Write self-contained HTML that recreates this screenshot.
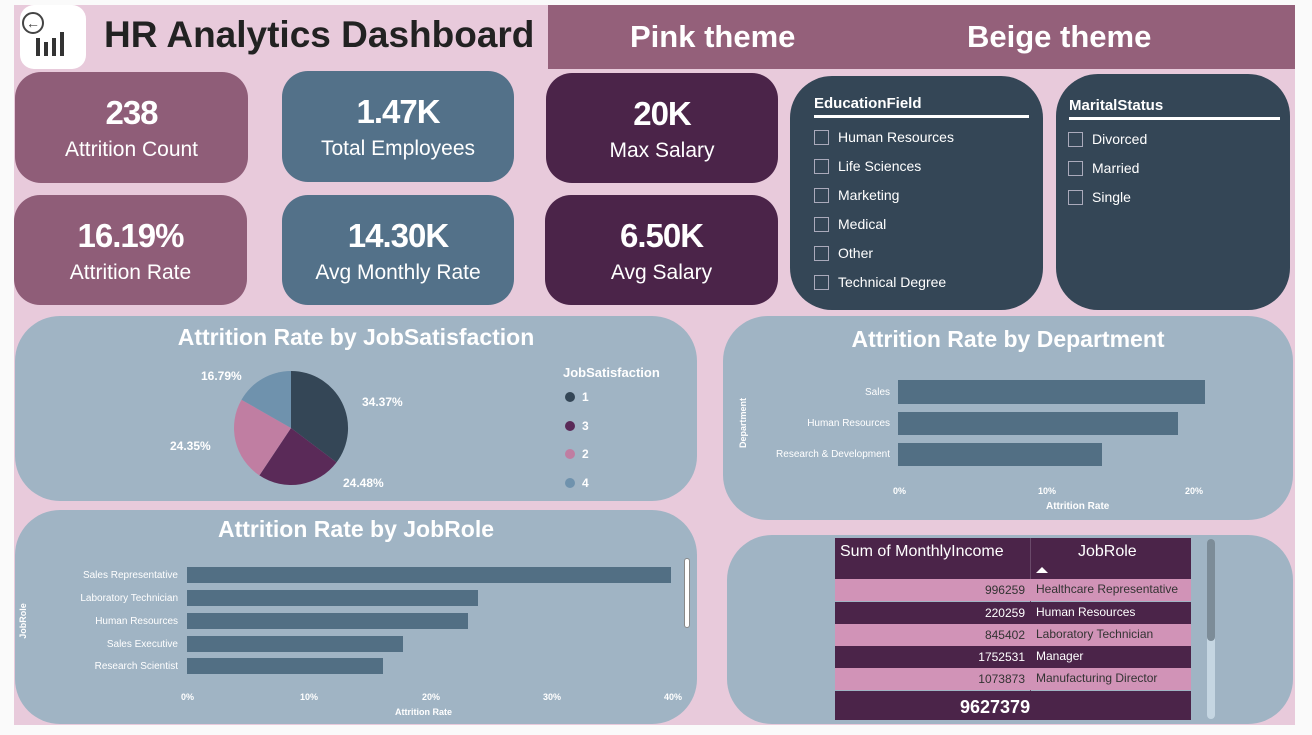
<!DOCTYPE html>
<html><head><meta charset="utf-8"><style>
*{margin:0;padding:0;box-sizing:border-box}
body{width:1312px;height:735px;background:#fafafa;position:relative;overflow:hidden;font-family:"Liberation Sans",sans-serif}
.a{position:absolute}
.bg{left:14px;top:5px;width:1281px;height:720px;background:#e8cadb}
.card{position:absolute;border-radius:26px;color:#fff;text-align:center}
.card b{display:block;font-size:33px;margin-top:22px;letter-spacing:-1px}
.card span{display:block;font-size:21px;margin-top:6px}
.p{background:#8f5d78}.bl{background:#537189}.d{background:#4b2449}
.panel{position:absolute;background:#a0b4c4;border-radius:45px}
.t{color:#fff;font-weight:bold;font-size:23px;text-align:center;position:absolute}
.sl{position:absolute;background:#344656;border-radius:42px;color:#fff}
.sl .h{position:absolute;font-weight:bold;font-size:15px;border-bottom:3px solid #fff;padding-bottom:3px}
.sl .i{position:absolute;font-size:14px}
.sl .i:before{content:"";position:absolute;left:-24px;top:1px;width:13px;height:13px;border:1px solid #aab}
.lab{position:absolute;font-size:10px;color:#fff;text-align:right}
.bar{position:absolute;background:#526f84}
.ax{position:absolute;font-size:9px;color:#fff;font-weight:bold}
.row{position:absolute;left:835px;width:356px;height:22px;font-size:12px}
.row .n{position:absolute;right:166px;top:4px}
.row .r{position:absolute;left:201px;top:3px}
</style></head><body>
<div class="a bg"></div>
<div class="a" style="left:20px;top:5px;width:66px;height:64px;background:#fff;border-radius:14px"></div>
<div class="a" style="left:36px;top:28px;width:36px;height:28px">
<div class="a" style="left:0;top:10px;width:4px;height:18px;background:#333"></div>
<div class="a" style="left:8px;top:14px;width:4px;height:14px;background:#333"></div>
<div class="a" style="left:16px;top:10px;width:4px;height:18px;background:#333"></div>
<div class="a" style="left:24px;top:4px;width:4px;height:24px;background:#333"></div></div>
<div class="a" style="left:22px;top:12px;width:22px;height:22px;border:2px solid #444;border-radius:50%;font-size:14px;line-height:18px;text-align:center;color:#444">←</div>
<div class="a" style="left:104px;top:14px;font-size:37px;font-weight:bold;color:#222">HR Analytics Dashboard</div>
<div class="a" style="left:548px;top:5px;width:747px;height:64px;background:#94607a"></div>
<div class="a" style="left:630px;top:19px;font-size:31px;font-weight:bold;color:#fff">Pink theme</div>
<div class="a" style="left:967px;top:19px;font-size:31px;font-weight:bold;color:#fff">Beige theme</div>

<div class="card p" style="left:15px;top:72px;width:233px;height:111px"><b>238</b><span>Attrition Count</span></div>
<div class="card bl" style="left:282px;top:71px;width:232px;height:111px"><b>1.47K</b><span>Total Employees</span></div>
<div class="card d" style="left:546px;top:73px;width:232px;height:110px"><b>20K</b><span>Max Salary</span></div>
<div class="card p" style="left:14px;top:195px;width:233px;height:110px"><b>16.19%</b><span>Attrition Rate</span></div>
<div class="card bl" style="left:282px;top:195px;width:232px;height:110px"><b>14.30K</b><span>Avg Monthly Rate</span></div>
<div class="card d" style="left:545px;top:195px;width:233px;height:110px"><b>6.50K</b><span>Avg Salary</span></div>

<div class="sl" style="left:790px;top:76px;width:253px;height:234px">
<div class="h" style="left:24px;top:19px;width:215px">EducationField</div>
<div class="i" style="left:48px;top:53px">Human Resources</div>
<div class="i" style="left:48px;top:82px">Life Sciences</div>
<div class="i" style="left:48px;top:111px">Marketing</div>
<div class="i" style="left:48px;top:140px">Medical</div>
<div class="i" style="left:48px;top:169px">Other</div>
<div class="i" style="left:48px;top:198px">Technical Degree</div></div>
<div class="sl" style="left:1056px;top:74px;width:234px;height:236px">
<div class="h" style="left:13px;top:23px;width:211px">MaritalStatus</div>
<div class="i" style="left:36px;top:57px">Divorced</div>
<div class="i" style="left:36px;top:86px">Married</div>
<div class="i" style="left:36px;top:115px">Single</div></div>

<div class="panel" style="left:15px;top:316px;width:682px;height:185px"></div>
<div class="t" style="left:15px;top:324px;width:682px">Attrition Rate by JobSatisfaction</div>
<svg class="a" style="left:0;top:0" width="1312" height="735">
<g transform="translate(291,428)">
<path d="M0,0 L0,-57 A57,57 0 0 1 45.5,34.4 Z" fill="#344656"/>
<path d="M0,0 L45.5,34.4 A57,57 0 0 1 -31.6,47.4 Z" fill="#5a2a58"/>
<path d="M0,0 L-31.6,47.4 A57,57 0 0 1 -49.5,-28.3 Z" fill="#c07ea2"/>
<path d="M0,0 L-49.5,-28.3 A57,57 0 0 1 0,-57 Z" fill="#6f92ad"/>
</g>
<g fill="#fff" font-size="12" font-weight="bold" font-family="Liberation Sans">
<text x="201" y="380">16.79%</text><text x="362" y="406">34.37%</text>
<text x="170" y="450">24.35%</text><text x="343" y="487">24.48%</text>
<text x="563" y="377" font-size="13">JobSatisfaction</text>
<text x="582" y="401">1</text><text x="582" y="430">3</text><text x="582" y="458">2</text><text x="582" y="487">4</text></g>
<circle cx="570" cy="397" r="5" fill="#344656"/><circle cx="570" cy="426" r="5" fill="#5a2a58"/>
<circle cx="570" cy="454" r="5" fill="#c07ea2"/><circle cx="570" cy="483" r="5" fill="#6f92ad"/>
</svg>

<div class="panel" style="left:723px;top:316px;width:570px;height:204px"></div>
<div class="t" style="left:723px;top:326px;width:570px">Attrition Rate by Department</div>
<div class="lab" style="left:740px;top:387px;width:150px">Sales</div>
<div class="lab" style="left:740px;top:418px;width:150px">Human Resources</div>
<div class="lab" style="left:740px;top:449px;width:150px">Research &amp; Development</div>
<div class="bar" style="left:898px;top:380px;width:307px;height:24px"></div>
<div class="bar" style="left:898px;top:412px;width:280px;height:23px"></div>
<div class="bar" style="left:898px;top:443px;width:204px;height:23px"></div>
<div class="ax" style="left:893px;top:486px">0%</div><div class="ax" style="left:1038px;top:486px">10%</div><div class="ax" style="left:1185px;top:486px">20%</div>
<div class="ax" style="left:1046px;top:501px;font-size:10px">Attrition Rate</div>
<div class="ax" style="left:718px;top:418px;transform:rotate(-90deg);font-size:9px">Department</div>

<div class="panel" style="left:15px;top:510px;width:682px;height:214px"></div>
<div class="t" style="left:15px;top:516px;width:682px">Attrition Rate by JobRole</div>
<div class="lab" style="left:30px;top:570px;width:148px">Sales Representative</div>
<div class="lab" style="left:30px;top:593px;width:148px">Laboratory Technician</div>
<div class="lab" style="left:30px;top:616px;width:148px">Human Resources</div>
<div class="lab" style="left:30px;top:639px;width:148px">Sales Executive</div>
<div class="lab" style="left:30px;top:661px;width:148px">Research Scientist</div>
<div class="bar" style="left:187px;top:567px;width:484px;height:16px"></div>
<div class="bar" style="left:187px;top:590px;width:291px;height:16px"></div>
<div class="bar" style="left:187px;top:613px;width:281px;height:16px"></div>
<div class="bar" style="left:187px;top:636px;width:216px;height:16px"></div>
<div class="bar" style="left:187px;top:658px;width:196px;height:16px"></div>
<div class="ax" style="left:181px;top:692px">0%</div><div class="ax" style="left:300px;top:692px">10%</div><div class="ax" style="left:422px;top:692px">20%</div><div class="ax" style="left:543px;top:692px">30%</div><div class="ax" style="left:664px;top:692px">40%</div>
<div class="ax" style="left:395px;top:707px">Attrition Rate</div>
<div class="ax" style="left:5px;top:616px;transform:rotate(-90deg)">JobRole</div>
<div class="a" style="left:684px;top:558px;width:6px;height:70px;background:#fff;border-radius:3px;border:1px solid #888"></div>

<div class="panel" style="left:727px;top:535px;width:566px;height:189px"></div>
<div class="a" style="left:835px;top:538px;width:356px;height:41px;background:#4b2449"></div>
<div class="a" style="left:840px;top:543px;color:#fff;font-size:16px">Sum of MonthlyIncome</div>
<div class="a" style="left:1078px;top:543px;color:#fff;font-size:16px">JobRole</div>
<div class="a" style="left:1036px;top:567px;border-left:6px solid transparent;border-right:6px solid transparent;border-bottom:6px solid #fff"></div>
<div class="a" style="left:1030px;top:538px;width:1px;height:182px;background:#6a4a6a"></div>
<div class="row" style="top:579px;background:#d193b7;color:#333"><span class="n">996259</span><span class="r">Healthcare Representative</span></div>
<div class="row" style="top:602px;background:#4b2449;color:#fff"><span class="n">220259</span><span class="r">Human Resources</span></div>
<div class="row" style="top:624px;background:#d193b7;color:#333"><span class="n">845402</span><span class="r">Laboratory Technician</span></div>
<div class="row" style="top:646px;background:#4b2449;color:#fff"><span class="n">1752531</span><span class="r">Manager</span></div>
<div class="row" style="top:668px;background:#d193b7;color:#333"><span class="n">1073873</span><span class="r">Manufacturing Director</span></div>
<div class="a" style="left:835px;top:691px;width:356px;height:29px;background:#4b2449"></div>
<div class="a" style="left:960px;top:697px;color:#fff;font-size:18px;font-weight:bold">9627379</div>
<div class="a" style="left:1207px;top:539px;width:8px;height:180px;background:#c5d6e2;border-radius:4px"></div>
<div class="a" style="left:1207px;top:539px;width:8px;height:102px;background:#7c8c98;border-radius:4px"></div>
</body></html>
